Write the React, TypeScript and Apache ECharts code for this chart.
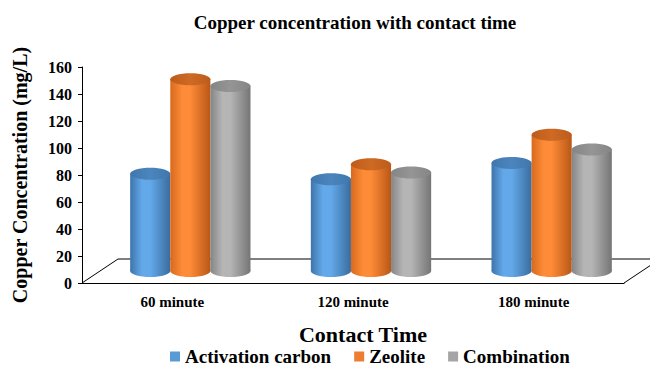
import { useEffect, useRef } from "react";
import * as echarts from "echarts";

// Copper concentration (mg/L) measured after each contact time
const categories = ["60 minute", "120 minute", "180 minute"];
const seriesNames = ["Activation carbon", "Zeolite", "Combination"];
const activationCarbon = [72, 68, 80];
const zeolite = [142, 79, 101];
const combination = [137, 73, 90];
const yMin = 0;
const yMax = 160;
const yInterval = 20;

const FONT = "'Times New Roman', 'Liberation Serif', serif";

// plot frame and the depth of the 3-D floor
const GRID = { left: 82, right: 26, top: 67, bottom: 84 };
const DEPTH_X = 36;
const DEPTH_Y = 24;
const CHART_W = 650;
const CHART_H = 367;

const palettes = [
  { legend: "#5b9bd5", edge: "#3e74ab", light: "#63a9ea", dark: "#3a6c9e", cap: "#3f77ad", capLight: "#4c85bd" },
  { legend: "#ed7d31", edge: "#d86a1e", light: "#fd8b37", dark: "#b95716", cap: "#bd5c1a", capLight: "#cd6a24" },
  { legend: "#a5a5a5", edge: "#858585", light: "#b5b5b5", dark: "#757575", cap: "#858585", capLight: "#959595" },
];

function serifText(size: number) {
  return { fontFamily: FONT, fontWeight: "bold" as const, fontSize: size, color: "#000" };
}

function linear(stops: [number, string][]) {
  return {
    type: "linear",
    x: 0,
    y: 0,
    x2: 1,
    y2: 0,
    colorStops: stops.map(([offset, color]) => ({ offset, color })),
  };
}

// one cylinder per data item, standing half-way into the floor's depth
function cylinderRenderer(idx: number) {
  const p = palettes[idx];
  const body = linear([
    [0, p.edge],
    [0.3, p.light],
    [0.5, p.light],
    [1, p.dark],
  ]);
  const cap = linear([
    [0, p.cap],
    [0.5, p.capLight],
    [1, p.cap],
  ]);
  return (params: any, api: any) => {
    const cat = api.value(0);
    const v = api.value(1);
    const base = api.coord([cat, 0]);
    const top = api.coord([cat, v]);
    const band = api.size([1, 0])[0];
    const w = band * 0.222;
    const cx = base[0] + DEPTH_X / 2 + (idx - 1) * w;
    const by = base[1] - DEPTH_Y / 2;
    const ty = top[1] - DEPTH_Y / 2;
    const rx = w / 2;
    const ry = 6;
    return {
      type: "group",
      children: [
        { type: "ellipse", shape: { cx, cy: by, rx, ry }, style: { fill: body } },
        { type: "rect", shape: { x: cx - rx, y: ty, width: w, height: by - ty }, style: { fill: body } },
        { type: "ellipse", shape: { cx, cy: ty, rx, ry }, style: { fill: cap } },
      ],
    };
  };
}

export default function App() {
  const ref = useRef<HTMLDivElement>(null);

  useEffect(() => {
    document.body.style.margin = "0";
    if (!ref.current) return;
    const chart = echarts.init(ref.current, null, { renderer: "svg" });
    const values = [activationCarbon, zeolite, combination];

    const floorFrontY = CHART_H - GRID.bottom;
    const floorRightX = CHART_W - GRID.right;

    chart.setOption({
      animation: false,
      backgroundColor: "#ffffff",
      textStyle: serifText(12),
      title: {
        text: "Copper concentration with contact time",
        left: 350,
        top: 8,
        textAlign: "center",
        textStyle: serifText(19),
      },
      legend: {
        data: seriesNames,
        left: 170,
        top: 347,
        padding: 0,
        icon: "rect",
        itemWidth: 10,
        itemHeight: 10,
        itemGap: 23,
        textStyle: serifText(19),
      },
      grid: { left: GRID.left, right: GRID.right, top: GRID.top, bottom: GRID.bottom },
      xAxis: {
        type: "category",
        data: categories,
        axisLine: { show: true, lineStyle: { color: "#000", width: 1 } },
        axisTick: { show: false },
        axisLabel: { ...serifText(15), margin: 11 },
        name: "Contact Time",
        nameLocation: "middle",
        nameGap: 40,
        nameTextStyle: { ...serifText(22), padding: [0, 0, 0, 20] },
      },
      yAxis: {
        type: "value",
        min: yMin,
        max: yMax,
        interval: yInterval,
        axisLine: { show: true, lineStyle: { color: "#000", width: 1 } },
        axisTick: { show: true, length: 4, lineStyle: { color: "#000" } },
        splitLine: { show: false },
        axisLabel: { ...serifText(16), margin: 10 },
        name: "Copper Concentration (mg/L)",
        nameLocation: "middle",
        nameGap: 52,
        nameTextStyle: serifText(20),
      },
      graphic: [
        {
          type: "polyline",
          shape: {
            points: [
              [GRID.left, floorFrontY],
              [GRID.left + DEPTH_X, floorFrontY - DEPTH_Y],
              [floorRightX + DEPTH_X, floorFrontY - DEPTH_Y],
            ],
          },
          style: { stroke: "#000", fill: "none", lineWidth: 1 },
          z: 1,
        },
        {
          type: "line",
          shape: { x1: floorRightX, y1: floorFrontY, x2: floorRightX + DEPTH_X, y2: floorFrontY - DEPTH_Y },
          style: { stroke: "#000", lineWidth: 1 },
          z: 1,
        },
      ],
      series: seriesNames.map((name, i) => ({
        name,
        type: "custom",
        renderItem: cylinderRenderer(i),
        itemStyle: { color: palettes[i].legend },
        data: values[i].map((v, c) => [c, v]),
        encode: { x: 0, y: 1 },
        z: 5,
      })),
    });

    return () => chart.dispose();
  }, []);

  return <div ref={ref} style={{ width: CHART_W, height: CHART_H }} />;
}
